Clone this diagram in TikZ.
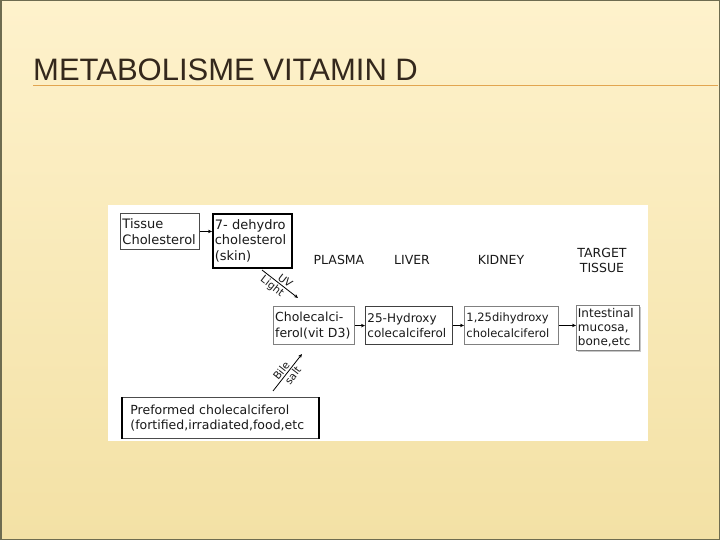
\documentclass[tikz,border=0pt]{standalone}
\usepackage{fontspec}
\setmainfont{DejaVu Sans}
\newfontfamily\titlefont{Liberation Sans}
\usetikzlibrary{arrows.meta,shadows}
\newcommand\dfs[1]{\fontsize{#1}{15.5}\selectfont}
\definecolor{bgtop}{RGB}{254,242,204}
\definecolor{bgmid}{RGB}{252,238,196}
\definecolor{bgbot}{RGB}{243,225,165}
\definecolor{slideedge}{RGB}{110,108,80}
\definecolor{titlecol}{RGB}{52,40,28}
\definecolor{rulecol}{RGB}{226,165,80}
\definecolor{inkcol}{RGB}{25,25,25}
\tikzset{
  box/.style={draw=#1, line width=0.9pt, inner xsep=2pt, inner ysep=0pt, align=left, anchor=north west, text=inkcol},
  hdr/.style={font=\dfs{12.5}, text=inkcol, inner sep=0pt},
  lbl/.style={font=\dfs{10.5}, text=inkcol, inner sep=1.5pt},
  arr/.style={draw=black, line width=0.8pt, -{Stealth[length=4pt,width=3.5pt]}}
}
\begin{document}
\begin{tikzpicture}[x=1pt,y=-1pt]
\useasboundingbox (0,0) rectangle (720,540);
\shade[top color=bgtop, middle color=bgmid, bottom color=bgbot] (0,0) rectangle (720,540);
\draw[slideedge, line width=1.5pt] (0.75,0.75) rectangle (719.25,539.25);
\node[anchor=base west, inner sep=0pt, text=titlecol, font=\titlefont\fontsize{31}{31}\selectfont] (title) at (33,81) {METABOLISME VITAMIN D};
\draw[rulecol, line width=1pt] (33,86) -- (718,86);
% picture panel
\fill[white] (108,205) rectangle (648,441);
% boxes
\node[box=gray!60!black, text width=75pt, minimum height=36pt, font=\dfs{13}] (tissue) at (120,213) {Tissue\\Cholesterol};
\node[box=black, line width=1.6pt, text width=75pt, minimum height=54pt, font=\dfs{13}] (dehydro) at (212,213) {7- dehydro\\cholesterol\\(skin)};
\node[box=gray, line width=1.2pt, text width=78pt, inner xsep=1.5pt, minimum height=38pt, font=\dfs{12.5}] (chole) at (273,306) {Cholecalci-\\ferol(vit D3)};
\node[box=gray!50!black, text width=83pt, minimum height=38pt, font=\dfs{12}] (hydroxy) at (365,306) {25-Hydroxy\\colecalciferol};
\node[box=gray, text width=90pt, minimum height=38pt, font=\dfs{11.5}] (dihydroxy) at (464,306) {1,25dihydroxy\\cholecalciferol};
\node[box=gray, text width=60pt, inner xsep=1.5pt, minimum height=45pt, font=\fontsize{12}{14}\selectfont, drop shadow={shadow xshift=2pt, shadow yshift=-2pt, fill=gray!45, opacity=1}, fill=white] (intest) at (576,305) {Intestinal\\mucosa,\\bone,etc};
\node[box=gray!60!black, line width=0.8pt, text width=180pt, inner xsep=8pt, minimum height=41pt, font=\dfs{12.5}] (pre) at (122,397) {Preformed cholecalciferol\\(fortified,irradiated,food,etc};
\draw[black, line width=2.5pt] (pre.north west) -- (pre.south west);
\draw[black, line width=2.5pt] (pre.north east) -- (pre.south east);
% headers
\node[hdr] (plasma) at (339,260) {PLASMA};
\node[hdr] (liver) at (412,260) {LIVER};
\node[hdr] (kidney) at (501,260) {KIDNEY};
\node[hdr] (target) at (602,253) {TARGET};
\node[hdr] (tissuehdr) at (602,268) {TISSUE};
% horizontal arrows
\draw[arr] (tissue.east) -- (tissue.east -| dehydro.west);
\draw[arr] (chole.east) -- (chole.east -| hydroxy.west);
\draw[arr] (hydroxy.east) -- (hydroxy.east -| dihydroxy.west);
\draw[arr] (dihydroxy.east) -- (dihydroxy.east -| intest.west);
% UV light
\coordinate (uvs) at (262,270);
\coordinate (uve) at (298,298);
\draw[arr] (uvs) -- (uve)
  node[lbl, pos=0.55, above, sloped] (uv) {UV}
  node[lbl, pos=0.40, below, sloped] (light) {Light};
% Bile salt
\coordinate (bs) at (273,391);
\coordinate (be) at (302,354);
\draw[arr] (bs) -- (be)
  node[lbl, pos=0.45, above, sloped] (bile) {Bile}
  node[lbl, pos=0.52, below, sloped] (salt) {salt};
\end{tikzpicture}
\end{document}
